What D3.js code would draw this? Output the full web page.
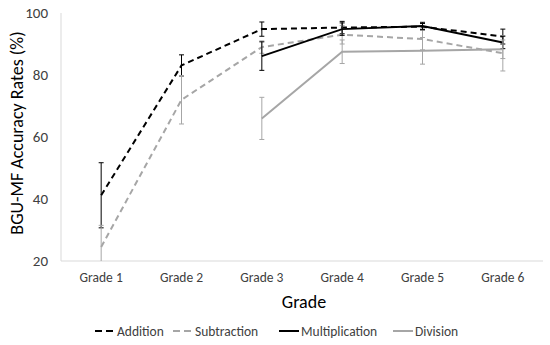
<!DOCTYPE html>
<html>
<head>
<meta charset="utf-8">
<script src="https://cdn.jsdelivr.net/npm/d3@7"></script>
<style>
  body { margin: 0; background: #fff; }
  text { font-family: Calibri, Carlito, Lato, sans-serif; }
</style>
</head>
<body>
<div id="chart"></div>
<script>
const grades = ["Grade 1", "Grade 2", "Grade 3", "Grade 4", "Grade 5", "Grade 6"];
const yTicks = [20, 40, 60, 80, 100];

// null = no value for that grade
const addition = [41.2, 83.1, 94.8, 95.3, 95.6, 92.4];
const additionErr = [10.5, 3.4, 2.3, 2.0, 1.0, 2.4];
const subtraction = [24.5, 72.0, 89.0, 93.0, 91.6, 87.0];
const subtractionErr = [7.0, 7.8, 2.0, 3.0, 3.5, 5.7];
const multiplication = [null, null, 86.1, 94.8, 95.8, 90.5];
const multiplicationErr = [null, null, 4.6, 2.0, 1.2, 2.0];
const division = [null, null, 66.0, 87.5, 87.8, 88.3];
const divisionErr = [null, null, 6.8, 3.8, 4.3, 3.0];

const series = [
  { name: "Addition", values: addition, err: additionErr, color: "#000000", dash: "6,4" },
  { name: "Subtraction", values: subtraction, err: subtractionErr, color: "#a6a6a6", dash: "6,4" },
  { name: "Multiplication", values: multiplication, err: multiplicationErr, color: "#000000", dash: null },
  { name: "Division", values: division, err: divisionErr, color: "#a6a6a6", dash: null }
];

const W = 550, H = 345;
const margin = { top: 13, right: 7, bottom: 84, left: 61 };
const width = W - margin.left - margin.right;
const height = H - margin.top - margin.bottom;

const svg = d3.select("#chart").append("svg")
  .attr("width", W)
  .attr("height", H);

const g = svg.append("g")
  .attr("transform", "translate(" + margin.left + "," + margin.top + ")");

const x = d3.scaleBand().domain(grades).range([0, width]);
const y = d3.scaleLinear().domain([20, 100]).range([height, 0]);
const cx = d => x(d) + x.bandwidth() / 2;

// axis lines
g.append("line")
  .attr("x1", 0).attr("x2", 0).attr("y1", 0).attr("y2", height)
  .attr("stroke", "#d9d9d9");
g.append("line")
  .attr("x1", 0).attr("x2", width).attr("y1", height).attr("y2", height)
  .attr("stroke", "#d9d9d9");

const yAxis = g.append("g")
  .call(d3.axisLeft(y).tickValues(yTicks).tickSize(0).tickPadding(13));
yAxis.select(".domain").remove();
yAxis.selectAll("text").attr("font-size", "15px").attr("fill", "#404040");

const xAxis = g.append("g")
  .attr("transform", "translate(0," + height + ")")
  .call(d3.axisBottom(x).tickSize(0).tickPadding(11));
xAxis.select(".domain").remove();
xAxis.selectAll("text").attr("font-size", "13.5px").attr("fill", "#404040");

// clip for error bars going under the axis
svg.append("clipPath").attr("id", "plotClip")
  .append("rect").attr("x", -5).attr("y", -5).attr("width", width + 10).attr("height", height + 5);

const plot = g.append("g").attr("clip-path", "url(#plotClip)");

series.forEach(s => {
  const pts = grades.map((gr, i) => ({ gr, v: s.values[i], e: s.err[i] }))
    .filter(d => d.v !== null);

  const line = d3.line()
    .x(d => cx(d.gr))
    .y(d => y(d.v));

  plot.append("path")
    .datum(pts)
    .attr("fill", "none")
    .attr("stroke", s.color)
    .attr("stroke-width", 2)
    .attr("stroke-dasharray", s.dash)
    .attr("d", line);

  const eb = plot.append("g").selectAll("g")
    .data(pts)
    .enter().append("g")
    .attr("stroke", s.color)
    .attr("stroke-width", 1);

  eb.append("line")
    .attr("x1", d => cx(d.gr)).attr("x2", d => cx(d.gr))
    .attr("y1", d => y(d.v - d.e)).attr("y2", d => y(d.v + d.e));
  eb.append("line")
    .attr("x1", d => cx(d.gr) - 2.5).attr("x2", d => cx(d.gr) + 2.5)
    .attr("y1", d => y(d.v + d.e)).attr("y2", d => y(d.v + d.e));
  eb.append("line")
    .attr("x1", d => cx(d.gr) - 2.5).attr("x2", d => cx(d.gr) + 2.5)
    .attr("y1", d => y(d.v - d.e)).attr("y2", d => y(d.v - d.e));
});

// axis titles
svg.append("text")
  .attr("x", margin.left + width / 2 + 2)
  .attr("y", 308)
  .attr("text-anchor", "middle")
  .attr("font-size", "18px")
  .attr("fill", "#000")
  .text("Grade");

svg.append("text")
  .attr("transform", "translate(23,133) rotate(-90)")
  .attr("text-anchor", "middle")
  .attr("font-size", "18px")
  .attr("fill", "#000")
  .text("BGU-MF Accuracy Rates (%)");

// legend
const legendX = [95, 173, 279, 393];
const legend = svg.append("g");
series.forEach((s, i) => {
  const lg = legend.append("g").attr("transform", "translate(" + legendX[i] + ",331)");
  lg.append("line")
    .attr("x1", 0).attr("x2", 20).attr("y1", 0).attr("y2", 0)
    .attr("stroke", s.color)
    .attr("stroke-width", 2)
    .attr("stroke-dasharray", s.dash ? "7,4" : null);
  lg.append("text")
    .attr("x", 22)
    .attr("y", 4.5)
    .attr("font-size", "13.5px")
    .attr("fill", "#404040")
    .text(s.name);
});
</script>
</body>
</html>
